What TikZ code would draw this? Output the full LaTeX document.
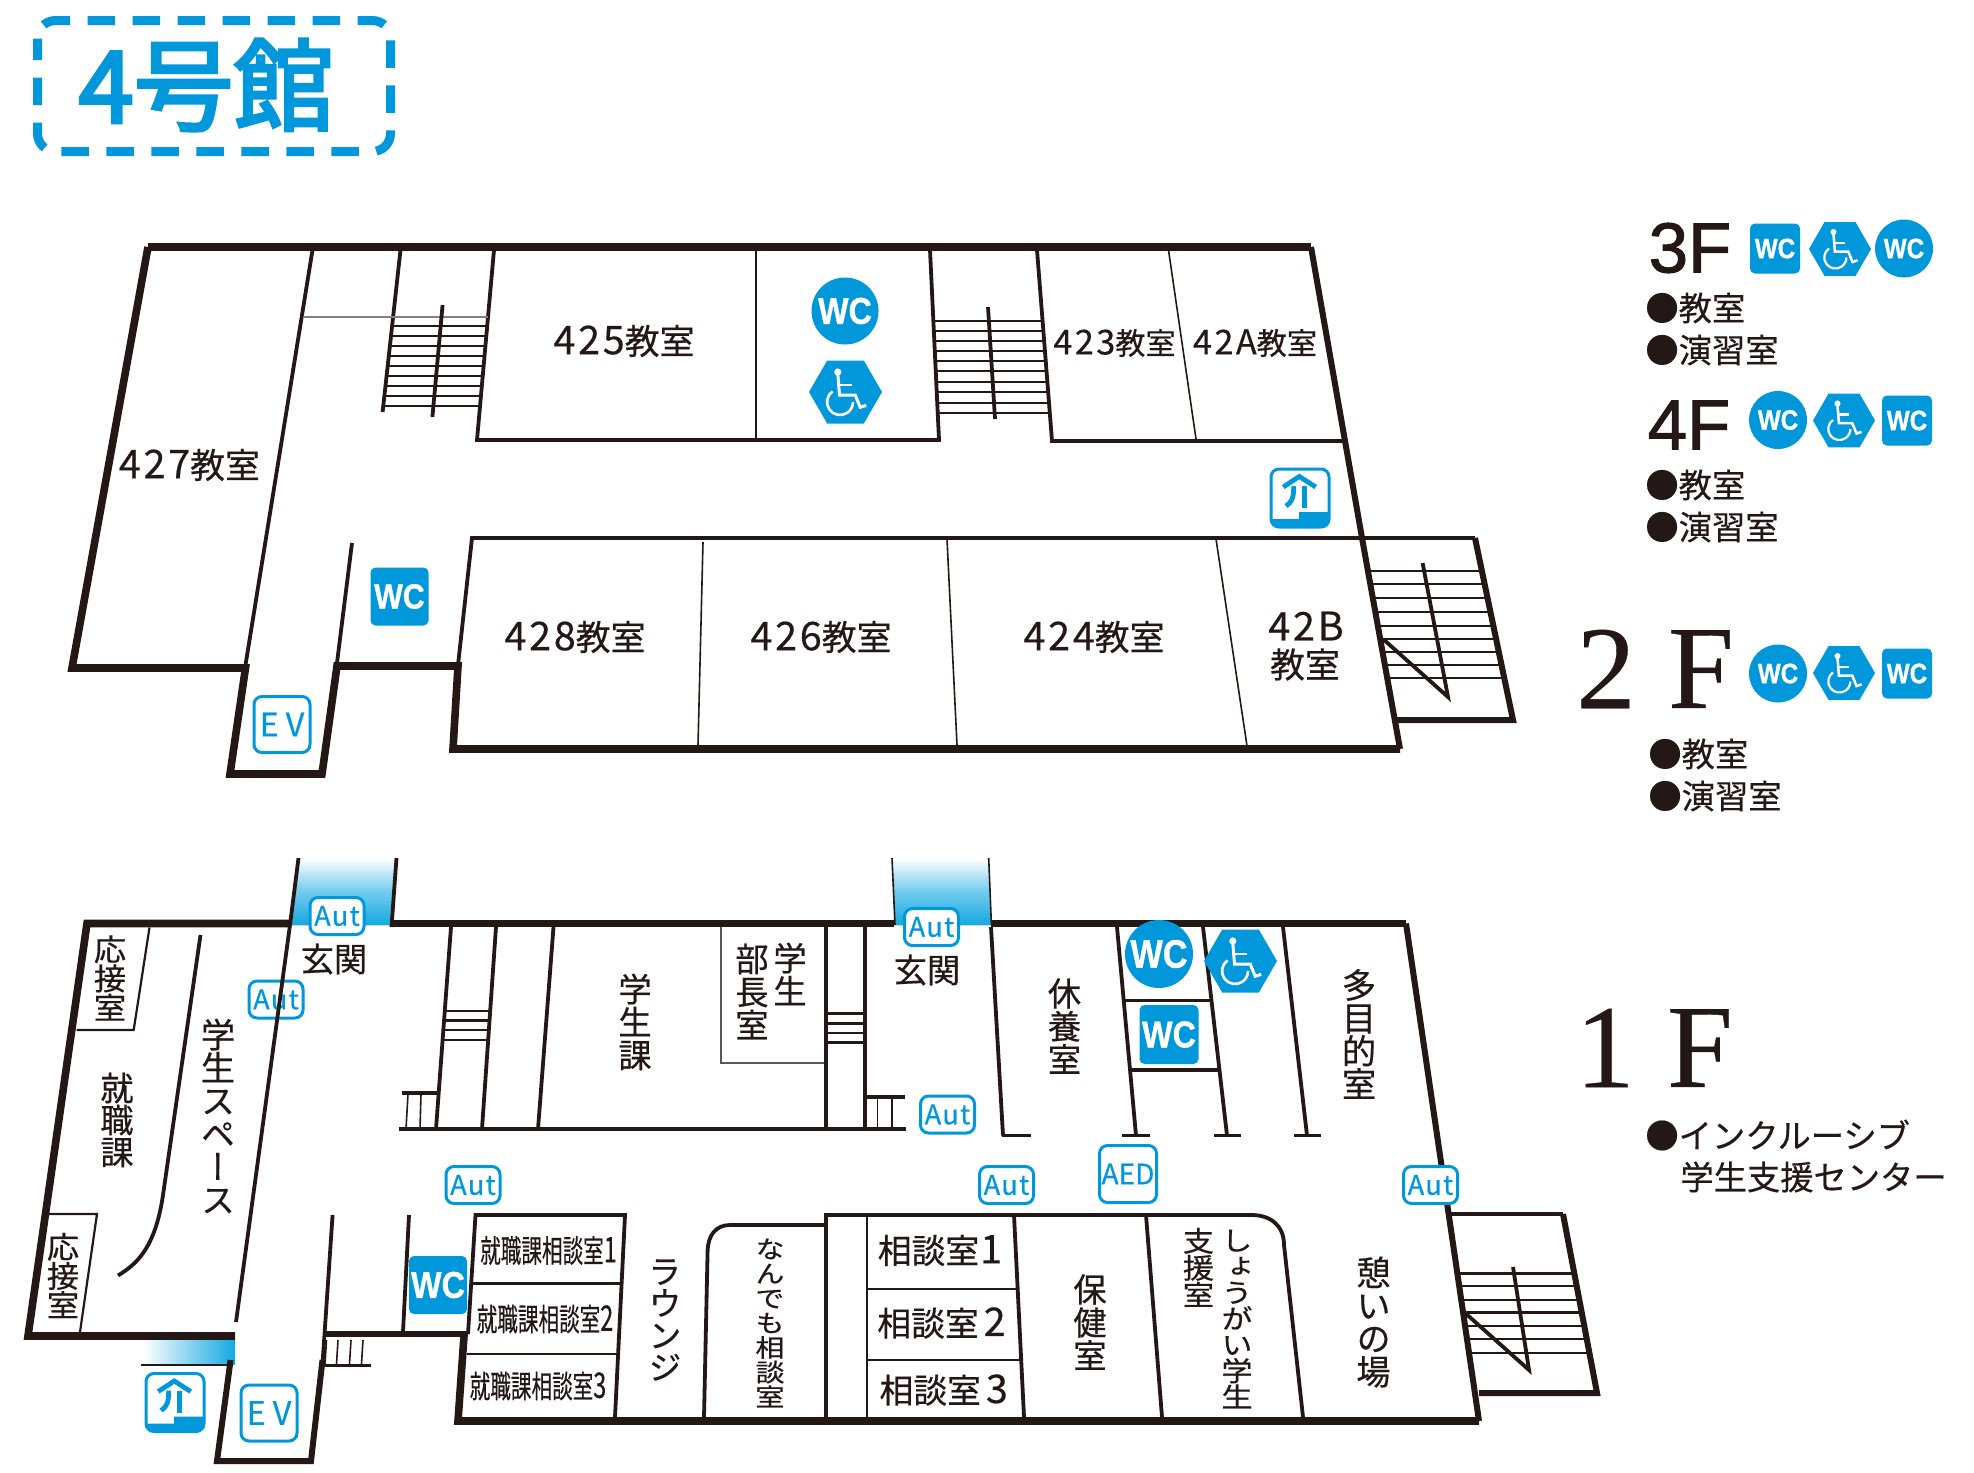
\documentclass[tikz,border=0pt]{standalone}
\usepackage{fontspec}
\usepackage{graphicx}
\setmainfont[FakeBold=0.4]{Noto Sans CJK JP}
\newfontfamily\jp[FakeBold=0.4]{Noto Sans CJK JP}
\newfontfamily\ttlf[FakeBold=3.2]{Noto Sans CJK JP}
\newfontfamily\vjp[RawFeature=+vert,FakeBold=0.4]{Noto Sans CJK JP}
\newfontfamily\dgf[LetterSpace=7,FakeBold=0.4]{Noto Sans CJK JP}
\newfontfamily\ltr[LetterSpace=5,FakeBold=0.5]{Noto Sans CJK JP}
\newfontfamily\lsan[FakeBold=1.5]{Liberation Sans}
\newfontfamily\wcf[BoldFeatures={FakeBold=1}]{Liberation Sans}
\newfontfamily\lser[FakeBold=0.3]{Liberation Serif}
\definecolor{ink}{HTML}{231815}
\definecolor{bl}{HTML}{0097DB}
\definecolor{bl2}{HTML}{14A9E0}
\newcommand\fpx[1]{\fontsize{\fpeval{#1/2*1.04}pt}{\fpeval{#1/2}pt}\selectfont}
\newcommand\vf[2]{\fontsize{\fpeval{#1/2*1.04}pt}{\fpeval{#2/2}pt}\vjp\selectfont\lineskiplimit=-100pt\relax}
\newcommand\dg[2]{{\fontsize{\fpeval{#1/2*1.04}pt}{\fpeval{#1/2}pt}\dgf\selectfont #2}}
\tikzset{
 wall/.style={line width=3.8pt,miter limit=10},
 wallm/.style={line width=3pt},
 mid/.style={line width=1.9pt},
 thinw/.style={line width=1.1pt},
 hair/.style={line width=0.8pt},
 tread/.style={line width=1.2pt},
 lbl/.style={inner sep=0pt,font=\fpx{#1}},
 vt/.style n args={2}{inner sep=0pt,align=center,font=\vf{#1}{#2}},
 aut/.style={draw=bl,line width=1.5pt,fill=white,rounded corners=4pt,minimum width=27pt,minimum height=18.5pt,inner sep=0pt,text=bl,font=\fpx{26}\ltr},
 evbox/.style={draw=bl,line width=1.5pt,rounded corners=4pt,minimum width=28pt,minimum height=28pt,inner sep=0pt,text=bl,font=\fpx{31}},
 wcs/.style={fill=bl,rounded corners=2.5pt,text=white,inner sep=0pt,font=\wcf\bfseries},
 wcc/.style={fill=bl,circle,text=white,inner sep=0pt,font=\wcf\bfseries},
}
\newcommand\wctxt[1]{\fpx{#1}\scalebox{0.97}[1.12]{WC}}
\newcommand\wcsq[5]{\node[wcs,minimum size=\fpeval{#4/2}pt] (#1) at (#2,#3) {\wctxt{#5}};}
\newcommand\wccr[5]{\node[wcc,minimum size=\fpeval{#4/2}pt] (#1) at (#2,#3) {\wctxt{#5}};}
\newcommand\hexi[3]{\begin{scope}[shift={(#1,#2)},scale=#3]
 \fill[bl] (-36.5,0) -- (-18.3,-31.5) -- (18.3,-31.5) -- (36.5,0) -- (18.3,31.5) -- (-18.3,31.5) -- cycle;
 \fill[white] (-7.7,-20) circle[radius=3.6];
 \draw[white,line width=1.5pt*#3] (-7.7,-18) -- (-6,3) -- (9.7,3) -- (14.7,15.3) -- (20.7,13.3);
 \draw[white,line width=1.3pt*#3] (-7,-7) -- (6.3,-7);
 \draw[white,line width=1.3pt*#3] (-5.5,10) ++(235:13) arc[start angle=235,end angle=0,radius=13];
\end{scope}}
\newcommand\guide[2]{\begin{scope}[shift={(#1,#2)}]
 \begin{scope}
 \clip[rounded corners=4pt] (-29,-29) rectangle (29,29);
 \fill[bl] (-30,21) -- (-1,21) -- (-1,14) -- (30,14) -- (30,30) -- (-30,30) -- cycle;
 \end{scope}
 \draw[bl,line width=1.5pt,rounded corners=4pt] (-29,-29) rectangle (29,29);
 \draw[bl,line width=2.4pt] (-16.8,-11) -- (-0.7,-21.5) -- (15.7,-11);
 \draw[bl,line width=2.4pt] (-6.3,-12) .. controls (-6.3,0) and (-8,4) .. (-14,8);
 \draw[bl,line width=2.6pt] (4.5,-12) -- (4.5,10);
\end{scope}}
\newcommand\treads[9]{\foreach \yy in {#9} {\pgfmathsetmacro\xl{#1+(\yy-#2)*(#3-#1)/(#4-#2)}\pgfmathsetmacro\xr{#5+(\yy-#6)*(#7-#5)/(#8-#6)}\draw[tread] (\xl,\yy) -- (\xr,\yy);}}
\begin{document}
\begin{tikzpicture}[x=0.5pt,y=-0.5pt,color=ink,line join=miter]
\useasboundingbox (0,0) rectangle (1974,1472);
\fill[white] (0,0) rectangle (1974,1472);
% ---------- title
\draw[bl,line width=4.5pt,dash pattern=on 13.8pt off 8.7pt,dash phase=3pt,rounded corners=9pt] (37.5,20.5) rectangle (390.5,151.5);
\node[inner sep=0pt,text=bl,font=\fpx{96}\ttlf] (title) at (206,85) {4号館};
% ---------- upper plan
\draw[wall] (148,247) -- (1311,247);
\draw[wall] (148,247) -- (72,668) -- (245.5,668) -- (230,774) -- (322,774) -- (337,666) -- (458,666) -- (453,749) -- (1400,749);
\draw[wallm] (1311,247) -- (1362,538) -- (1400,749);
\draw[mid] (312.5,250) -- (245.5,665);
\draw[mid] (400.5,250) -- (382.6,412);
\draw[mid] (494,250) -- (477,440) -- (939,440) -- (930,250);
\draw[hair,gray] (303,317) -- (488,317);
\draw[thinw] (756,250) -- (756,440);
\treads{400.5}{250}{382.6}{412}{494}{250}{477}{440}{326,336,346,356,366,376,386,396,406}
\draw[mid] (442.6,305) -- (432.4,417);
\treads{930}{250}{939}{440}{1037}{250}{1052}{441}{321,331,341,351,361,371,382,392,403,413}
\draw[mid] (988,307) -- (995,419);
\draw[mid] (1037,250) -- (1052,441) -- (1345,441);
\draw[hair] (1168.5,250) -- (1196,439);
\draw[mid] (458,665) -- (472,538) -- (1475,538);
\draw[hair] (703,542) -- (698,745);
\draw[hair] (947,539) -- (957,745);
\draw[hair] (1216,539) -- (1247,746);
\draw[wallm] (1475,538) -- (1513,720) -- (1397,720);
\treads{1362}{538}{1400}{749}{1475}{538}{1513}{720}{571,584,598,612,626,639,652,665,678}
\draw[mid] (1422.6,563) -- (1448,697) -- (1383,639);
\draw[mid] (352,543) -- (337,663);
\node[lbl=33.5] (r427) at (189.4,465) {\dg{38}{427}教室};
\node[lbl=33.5] (r425) at (624,341) {\dg{38}{425}教室};
\node[lbl=33.5] (r428) at (575,637) {\dg{38}{428}教室};
\node[lbl=33.5] (r426) at (821,637) {\dg{38}{426}教室};
\node[lbl=33.5] (r424) at (1094,637) {\dg{38}{424}教室};
\node[lbl=29] (r423) at (1114.5,343) {\dg{33}{423}教室};
\node[lbl=29] (r42a) at (1255,343) {\dg{33}{42A}教室};
\node[lbl=33.5] (r42b) at (1306,626) {\dg{38}{42B}};
\node[lbl=33.5] (r42bb) at (1305,664.5) {教室};
\wccr{w1}{845}{311}{67}{32}
\hexi{845.5}{392}{1}
\wcsq{w2}{399.5}{596.5}{58}{30}
\guide{1300}{498}
\node[evbox] (ev1) at (282,724.5) {E\hspace{3.5pt}V};
% ---------- lower plan
\fill[top color=white,bottom color=bl2,middle color=bl2!60] (298,858) -- (396,858) -- (391.5,925) -- (290,925) -- cycle;
\fill[top color=white,bottom color=bl2,middle color=bl2!60] (892,858) -- (988.7,858) -- (991.4,925) -- (895,925) -- cycle;
\fill[left color=white,right color=bl2] (143,1340) rectangle (235,1364);
\draw[wall] (290,923.5) -- (87,923.5) -- (28,1336) -- (235,1336);
\draw[wall] (391.5,923.5) -- (894,923.5);
\draw[wall] (991,923.5) -- (1406,923.5);
\draw[wallm] (1406,923.5) -- (1479,1421);
\draw[wall] (1479,1421) -- (458,1421) -- (464,1336);
\draw[wallm] (322.5,1334) -- (468,1334);
\draw[mid] (298.5,858) -- (290,925);
\draw[mid] (396.5,858) -- (391.5,927);
\draw[hair] (892,858) -- (895,925);
\draw[hair] (988.7,858) -- (991.4,925);
\node[aut] (a2) at (276,999.5) {Aut};
\draw[mid] (290,925) -- (236,1322);
\draw[mid] (468,1334) -- (475.5,1215) -- (625,1215) -- (615,1417);
\draw[thinw] (472,1283.5) -- (620,1283.5);
\draw[thinw] (467,1354) -- (617,1354);
\draw[mid] (332.6,1215) -- (322.5,1364);
\draw[wallm] (322.5,1360) -- (311,1461) -- (217,1461) -- (230.6,1360);
\draw[mid] (409,1215) -- (403,1332);
\draw[thinw] (141,1365) -- (228.5,1365);
\draw[line width=1.5pt] (322.5,1365) -- (371,1365);
\foreach \xx in {326.5,338,351,363} \draw[hair] (\xx,1340) -- (\xx-1.5,1364);
\draw[mid] (451,927) -- (436,1129);
\draw[mid] (496,927) -- (482,1129);
\draw[mid] (553.5,927) -- (538,1129);
\draw[line width=1.6pt] (399,1129) -- (906,1129);
\treads{451}{927}{436}{1129}{496}{927}{482}{1129}{1011,1020.6,1030,1040}
\draw[line width=1.6pt] (401.5,1093) -- (437,1093);
\draw[hair] (408,1094) -- (406,1129);
\draw[hair] (421,1094) -- (420,1129);
\draw[thinw,gray!70!black] (721,927) -- (721,1062.6) -- (825,1062.6);
\draw[mid] (826,927) -- (826,1129);
\draw[mid] (865,927) -- (865,1129);
\treads{826}{927}{826}{1129}{865}{927}{865}{1129}{1013.4,1023.5,1033,1042.5}
\draw[line width=1.6pt] (867,1097) -- (905,1097);
\draw[hair] (877.5,1098) -- (877.5,1129);
\draw[hair] (892,1098) -- (892,1129);
\draw[mid] (991,927) -- (1003,1135.5);
\draw[mid] (1002,1135.5) -- (1031,1135.5);
\draw[mid] (1117,927) -- (1136,1135.5);
\draw[mid] (1121.5,1135.5) -- (1150,1135.5);
\draw[mid] (1203,927) -- (1227,1135.5);
\draw[mid] (1213.6,1135.5) -- (1240.7,1135.5);
\draw[mid] (1283,927) -- (1307,1135.5);
\draw[mid] (1294,1135.5) -- (1321,1135.5);
\draw[mid] (1124,1000.5) -- (1211,1000.5);
\draw[mid] (1131,1070) -- (1218,1070);
\draw[mid] (826,1417) -- (826,1215) -- (1251.5,1215) .. controls (1270,1215) and (1284,1225) .. (1284,1245) -- (1303,1417);
\draw[line width=1.2pt] (867,1215) -- (867,1417);
\draw[mid] (1014,1215) -- (1024,1417);
\draw[mid] (1146,1215) -- (1162,1417);
\draw[thinw] (868,1289) -- (1016,1289);
\draw[thinw] (868,1360) -- (1020,1360);
\draw[mid] (704,1417) -- (707.6,1251) .. controls (708,1235) and (716,1225) .. (730,1225) -- (826,1225);
\draw[thinw] (149.5,927.5) -- (133.7,1030) -- (76.5,1030);
\draw[thinw] (48.5,1214) -- (97,1214) -- (80,1332);
\draw[mid] (200.5,935) -- (163,1195) .. controls (155,1250) and (135,1265) .. (118,1275.5);
\draw[mid] (1448,1214) -- (1563,1214);
\draw[wallm] (1563,1214) -- (1597,1393) -- (1479,1393);
\treads{1448}{1214}{1479}{1421}{1563}{1214}{1597}{1393}{1273.5,1286,1300,1312.6,1326,1339,1353}
\draw[mid] (1513,1267) -- (1529,1370) -- (1464,1312);
\wccr{w3}{1159}{954}{68}{34}
\hexi{1240.5}{961}{1}
\wcsq{w4}{1169}{1034.5}{59}{32}
\wcsq{w5}{438}{1285}{58}{32}
\guide{175}{1402.5}
\node[evbox] (ev2) at (269,1413) {E\hspace{3.5pt}V};
\node[aut] (a1) at (337,916) {Aut};
\node[aut] (a3) at (473,1185) {Aut};
\node[aut] (a4) at (931.5,927) {Aut};
\node[aut] (a5) at (947.5,1114.5) {Aut};
\node[aut] (a6) at (1006.5,1185) {Aut};
\node[aut] (a7) at (1430.5,1185) {Aut};
\node[draw=bl,line width=1.5pt,fill=white,rounded corners=4pt,minimum width=28.5pt,minimum height=28.5pt,inner sep=0pt,text=bl,font=\fpx{27}] (aed) at (1128,1174) {AED};
\node[vt={31}{31},yscale=0.94] (t1) at (110,978) {応\\接\\室};
\node[vt={32}{32}] (t2) at (117,1120) {就\\職\\課};
\node[vt={33}{33}] (t3) at (218,1116) {学\\生\\ス\\ペ\\ー\\ス};
\node[vt={31}{31},yscale=0.94] (t4) at (63,1275.5) {応\\接\\室};
\node[lbl=32] (t5) at (334,959) {玄関};
\node[lbl=32] (t6) at (927,970) {玄関};
\node[vt={32}{33}] (t7) at (635,1022) {学\\生\\課};
\node[vt={32}{33}] (t8) at (752,991.5) {部\\長\\室};
\node[vt={32}{33}] (t9) at (790,974) {学\\生};
\node[vt={32}{33}] (t10) at (1064.5,1026) {休\\養\\室};
\node[vt={33}{33}] (t11) at (1359,1034) {多\\目\\的\\室};
\node[vt={32}{33}] (t12) at (1090,1322) {保\\健\\室};
\node[vt={30}{30},yscale=0.9] (t13) at (1198.4,1267.4) {支\\援\\室};
\node[vt={30}{30},yscale=0.87] (t14) at (1237,1319) {し\\ょ\\う\\が\\い\\学\\生};
\node[vt={33}{33}] (t15) at (1373.5,1322) {憩\\い\\の\\場};
\node[lbl=32.5] (t16) at (940,1250.5) {相談室\hspace{0.5pt}\dg{38}{1}};
\node[lbl=32.5] (t17) at (941.5,1323) {相談室\hspace{2.5pt}\dg{38}{2}};
\node[lbl=32.5] (t18) at (943.7,1390) {相談室\hspace{2.5pt}\dg{38}{3}};
\node[lbl=30] (t19) at (548.5,1250.5) {\scalebox{0.66}[1]{就職課相談室\dg{34}{1}}};
\node[lbl=30] (t20) at (545,1319) {\scalebox{0.66}[1]{就職課相談室\dg{34}{2}}};
\node[lbl=30] (t21) at (538,1386) {\scalebox{0.66}[1]{就職課相談室\dg{34}{3}}};
\node[vt={32}{32}] (t22) at (665,1320) {ラ\\ウ\\ン\\ジ};
\node[vt={28}{29},yscale=0.85] (t23) at (770,1323) {な\\ん\\で\\も\\相\\談\\室};
% ---------- legend
\node[inner sep=0pt,font=\lsan\fpx{68}] (f3) at (1690,248) {3F};
\wcsq{l1}{1775}{248.5}{50}{24}
\hexi{1840}{249}{0.85}
\wccr{l2}{1904}{248.5}{58}{24}
\node[lbl=32,anchor=west] (l3) at (1645,308) {●教室};
\node[lbl=32,anchor=west] (l4) at (1645,350) {●演習室};
\node[inner sep=0pt,font=\lsan\fpx{68}] (f4) at (1689,425) {4F};
\wccr{l5}{1778}{420}{58}{24}
\hexi{1844}{420.5}{0.85}
\wcsq{l6}{1907}{420.5}{50}{24}
\node[lbl=32,anchor=west] (l7) at (1645,485) {●教室};
\node[lbl=32,anchor=west] (l8) at (1645,527) {●演習室};
\node[inner sep=0pt,font=\lser\fpx{114}] (f2a) at (1606,669) {2};
\node[inner sep=0pt,font=\lser\fpx{114}] (f2b) at (1701,669) {F};
\wccr{l9}{1778}{673.5}{58}{24}
\hexi{1844}{673}{0.85}
\wcsq{l10}{1907}{673.5}{50}{24}
\node[lbl=32,anchor=west] (l11) at (1648,754) {●教室};
\node[lbl=32,anchor=west] (l12) at (1648,796) {●演習室};
\node[inner sep=0pt,font=\lser\fpx{114}] (f1a) at (1605,1048) {1};
\node[inner sep=0pt,font=\lser\fpx{114}] (f1b) at (1700,1048) {F};
\node[lbl=32,anchor=west] (l13) at (1645,1135) {●インクルーシブ};
\node[lbl=32,anchor=west] (l14) at (1680,1177) {学生支援センター};
\end{tikzpicture}
\end{document}
